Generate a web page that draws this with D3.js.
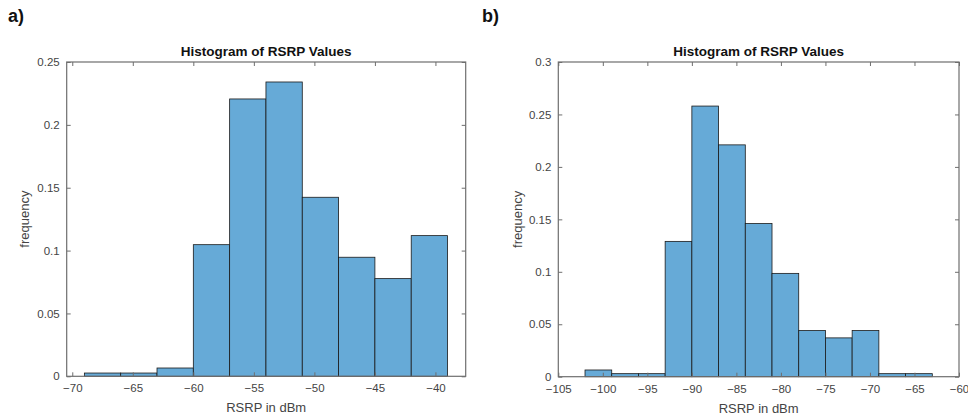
<!DOCTYPE html>
<html>
<head>
<meta charset="utf-8">
<script src="https://cdn.jsdelivr.net/npm/d3@7"></script>
<style>
  html, body { margin: 0; padding: 0; background: #fff; }
  svg { display: block; font-family: "Liberation Sans", Arial, sans-serif; }
</style>
</head>
<body>
<svg id="chart" width="968" height="418"></svg>
<script>
// ---- Data ----
const leftEdges = [-69, -66, -63, -60, -57, -54, -51, -48, -45, -42, -39];
const leftFreq  = [0.0026, 0.0026, 0.0066, 0.1047, 0.2206, 0.2341, 0.1424, 0.0947, 0.0777, 0.1119];
const leftXTicks = [-70, -65, -60, -55, -50, -45, -40];
const leftYTicks = [0, 0.05, 0.1, 0.15, 0.2, 0.25];
const leftXDomain = [-70.46, -37.5];
const leftYDomain = [0, 0.25];

const rightEdges = [-102, -99, -96, -93, -90, -87, -84, -81, -78, -75, -72, -69, -66, -63];
const rightFreq  = [0.0064, 0.0029, 0.0029, 0.129, 0.258, 0.221, 0.146, 0.0985, 0.044, 0.037, 0.044, 0.0029, 0.0029];
const rightXTicks = [-105, -100, -95, -90, -85, -80, -75, -70, -65, -60];
const rightYTicks = [0, 0.05, 0.1, 0.15, 0.2, 0.25, 0.3];
const rightXDomain = [-105, -60];
const rightYDomain = [0, 0.3];

const titleText = "Histogram of RSRP Values";
const xLabelText = "RSRP in dBm";
const yLabelText = "frequency";

const svg = d3.select("#chart");
const axisColor = "#6e6e6e";
const textColor = "#444";
const barFill = "#66aad7";

function yFmt(v) { return v === 0 ? "0" : d3.format("~g")(v); }

function drawPanel(opts) {
  const { left, top, right, bottom, edges, freq, xTicks, yTicks, xDomain, yDomain, panelLabel, panelLabelX, ylabelX } = opts;
  const x = d3.scaleLinear().domain(xDomain).range([left, right]);
  const y = d3.scaleLinear().domain(yDomain).range([bottom, top]);
  const g = svg.append("g");

  // bars
  const bins = freq.map((f, i) => ({ x0: edges[i], x1: edges[i + 1], f }));
  g.selectAll("rect.bar").data(bins).join("rect")
    .attr("class", "bar")
    .attr("x", d => x(d.x0))
    .attr("y", d => y(d.f))
    .attr("width", d => x(d.x1) - x(d.x0))
    .attr("height", d => y(0) - y(d.f))
    .attr("fill", barFill)
    .attr("stroke", "#1a1a1a")
    .attr("stroke-width", 0.8);

  const tickLen = 4;
  const xBottom = g.append("g").attr("transform", `translate(0,${bottom})`)
    .call(d3.axisBottom(x).tickValues(xTicks).tickSizeInner(-tickLen).tickSizeOuter(0).tickPadding(8).tickFormat(d3.format("d")));
  const xTop = g.append("g").attr("transform", `translate(0,${top})`)
    .call(d3.axisTop(x).tickValues(xTicks).tickSizeInner(-tickLen).tickSizeOuter(0).tickFormat(""));
  const yLeft = g.append("g").attr("transform", `translate(${left},0)`)
    .call(d3.axisLeft(y).tickValues(yTicks).tickSizeInner(-tickLen).tickSizeOuter(0).tickPadding(7).tickFormat(yFmt));
  const yRight = g.append("g").attr("transform", `translate(${right},0)`)
    .call(d3.axisRight(y).tickValues(yTicks).tickSizeInner(-tickLen).tickSizeOuter(0).tickFormat(""));

  [xBottom, xTop, yLeft, yRight].forEach(a => {
    a.select(".domain").remove();
    a.selectAll(".tick line").attr("stroke", axisColor).attr("stroke-width", 1);
    a.selectAll(".tick text").attr("fill", textColor).style("font-size", "11.5px")
      .style("font-family", "'Liberation Sans', Arial, sans-serif");
  });

  // box
  g.append("rect")
    .attr("x", left).attr("y", top)
    .attr("width", right - left).attr("height", bottom - top)
    .attr("fill", "none").attr("stroke", axisColor).attr("stroke-width", 1.2);

  // title
  g.append("text")
    .attr("x", (left + right) / 2).attr("y", top - 6)
    .attr("text-anchor", "middle")
    .attr("font-weight", "bold").attr("font-size", 13.5)
    .attr("fill", "#111")
    .text(titleText);

  // x label
  g.append("text")
    .attr("x", (left + right) / 2).attr("y", bottom + 36)
    .attr("text-anchor", "middle")
    .attr("font-size", 13).attr("fill", textColor)
    .text(xLabelText);

  // y label
  g.append("text")
    .attr("transform", `translate(${ylabelX},${(top + bottom) / 2}) rotate(-90)`)
    .attr("text-anchor", "middle")
    .attr("font-size", 13).attr("fill", textColor)
    .text(yLabelText);

  // panel label
  svg.append("text")
    .attr("x", panelLabelX).attr("y", 22)
    .attr("font-weight", "bold").attr("font-size", 18)
    .attr("fill", "#111")
    .text(panelLabel);
}

drawPanel({
  left: 66.7, top: 62, right: 465.7, bottom: 376.3,
  edges: leftEdges, freq: leftFreq, xTicks: leftXTicks, yTicks: leftYTicks,
  xDomain: leftXDomain, yDomain: leftYDomain,
  panelLabel: "a)", panelLabelX: 8, ylabelX: 29
});

drawPanel({
  left: 558.3, top: 62, right: 959, bottom: 376.7,
  edges: rightEdges, freq: rightFreq, xTicks: rightXTicks, yTicks: rightYTicks,
  xDomain: rightXDomain, yDomain: rightYDomain,
  panelLabel: "b)", panelLabelX: 482, ylabelX: 522
});
</script>
</body>
</html>
